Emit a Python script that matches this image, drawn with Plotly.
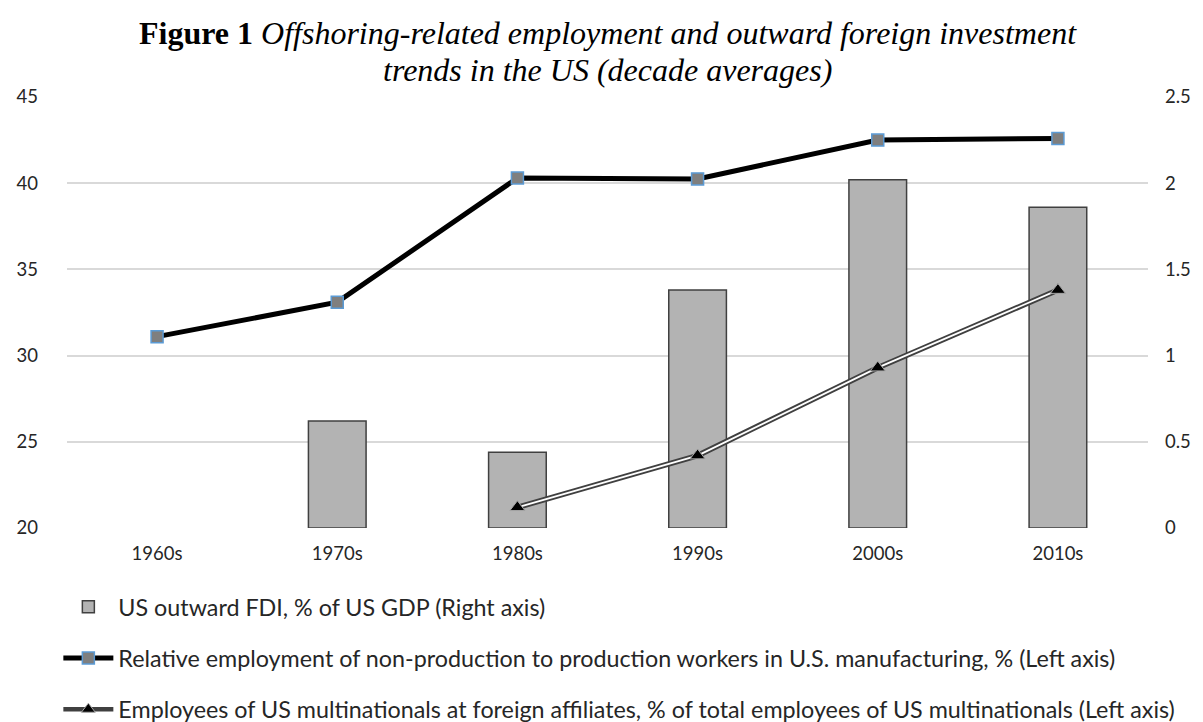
import plotly.graph_objects as go

decades = ["1960s", "1970s", "1980s", "1990s", "2000s", "2010s"]
fdi_pct_gdp = [None, 0.62, 0.44, 1.38, 2.02, 1.86]
rel_employment = [31.1, 33.1, 40.3, 40.25, 42.5, 42.6]
foreign_affiliates = [None, None, 21.2, 24.2, 29.3, 33.8]

left_ticks = [20, 25, 30, 35, 40, 45]
right_ticks = [0, 0.5, 1, 1.5, 2, 2.5]

FONT = "Lato"
TXT = "#262626"
fig = go.Figure()

# bars on the (right-side) primary axis so the lines draw on top
fig.add_trace(go.Bar(
    x=decades, y=fdi_pct_gdp, yaxis="y",
    name="US outward FDI, % of US GDP (Right axis)",
    marker=dict(color="#B3B3B3", line=dict(color="#404040", width=1.5)),
    legendgroup="a", legendrank=1,
))

fig.add_trace(go.Scatter(
    x=decades, y=rel_employment, mode="lines+markers", yaxis="y2",
    name="Relative employment of non-production to production workers in U.S. manufacturing, % (Left axis)",
    line=dict(color="black", width=5),
    marker=dict(symbol="square", size=12, color="#7F7F7F", line=dict(color="#5B9BD5", width=1.5)),
    legendgroup="b", legendrank=2,
))

# double line: dark outer line + white inner line
fig.add_trace(go.Scatter(
    x=decades, y=foreign_affiliates, mode="lines", yaxis="y2",
    line=dict(color="#404040", width=5.5),
    showlegend=False, hoverinfo="skip", legendgroup="c",
))
fig.add_trace(go.Scatter(
    x=decades, y=foreign_affiliates, mode="lines+markers", yaxis="y2",
    line=dict(color="white", width=1.8),
    marker=dict(symbol="triangle-up", size=13, color="black", line=dict(color="#A6A6A6", width=1)),
    showlegend=False, legendgroup="c",
))
# legend entry for the double line
fig.add_trace(go.Scatter(
    x=[None], y=[None], mode="lines+markers", yaxis="y2",
    name="Employees of US multinationals at foreign affiliates, % of total employees of US multinationals (Left axis)",
    line=dict(color="#404040", width=4.5),
    marker=dict(symbol="triangle-up", size=12, color="black", line=dict(color="#A6A6A6", width=1)),
    legendgroup="c", legendrank=3,
))

fig.update_layout(
    width=1203, height=722,
    margin=dict(l=59, r=63, t=89, b=202, autoexpand=False),
    paper_bgcolor="white", plot_bgcolor="white",
    font=dict(family=FONT, size=18, color=TXT),
    annotations=[
        dict(text="<b>Figure 1</b> <i>Offshoring-related employment and outward foreign investment</i>",
             xref="paper", yref="paper", x=0.5, y=1.1485, xanchor="center", yanchor="middle",
             showarrow=False, font=dict(family="Liberation Serif", size=32, color="black")),
        dict(text="<i>trends in the US (decade averages)</i>",
             xref="paper", yref="paper", x=0.5, y=1.0626, xanchor="center", yanchor="middle",
             showarrow=False, font=dict(family="Liberation Serif", size=32, color="black")),
    ],
    bargap=0.68,
    showlegend=True,
    legend=dict(
        x=-0.008, xanchor="left", yref="container", y=0.2008, yanchor="top",
        orientation="v", tracegroupgap=18,
        font=dict(family=FONT, size=23.3, color=TXT),
        itemwidth=50, bgcolor="rgba(0,0,0,0)",
    ),
    xaxis=dict(
        type="category", showgrid=False, showline=False, ticks="", ticklabelstandoff=12,
        tickfont=dict(family=FONT, size=18.5, color=TXT),
    ),
    yaxis=dict(
        range=[0, 2.5], tickvals=right_ticks, side="right",
        showgrid=True, gridcolor="#D9D9D9", gridwidth=1.5,
        zeroline=False, showline=False, ticks="", ticklabelstandoff=16,
        tickfont=dict(family=FONT, size=18.5, color=TXT),
    ),
    yaxis2=dict(
        range=[20, 45], tickvals=left_ticks, overlaying="y", side="left",
        showgrid=False, zeroline=False, showline=False, ticks="", ticklabelstandoff=28,
        tickfont=dict(family=FONT, size=18.5, color=TXT),
    ),
)

fig.write_html("out.html")
